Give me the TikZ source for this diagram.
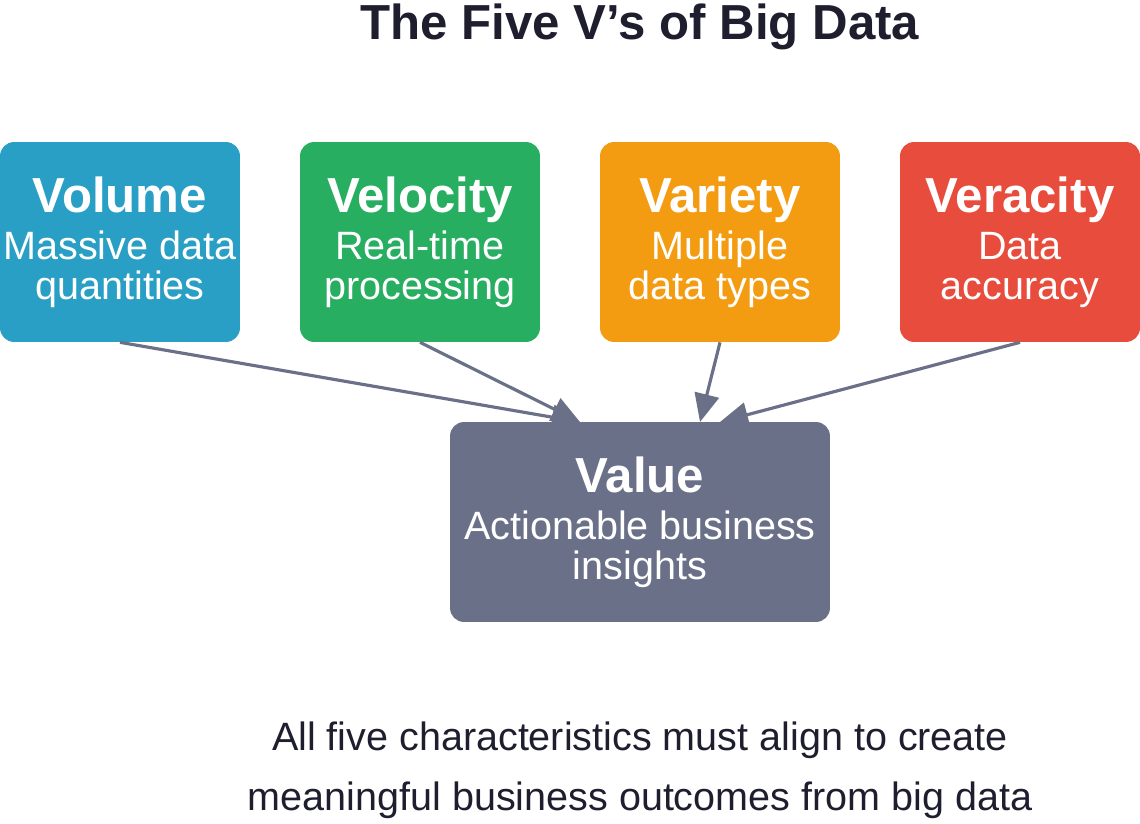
\documentclass[tikz,border=0pt]{standalone}
\usepackage{fontspec}
\setmainfont{Liberation Sans}
\usetikzlibrary{positioning,arrows.meta}
\definecolor{volumeblue}{HTML}{2A9FC6}
\definecolor{velocitygreen}{HTML}{27AE60}
\definecolor{varietyorange}{HTML}{F39C12}
\definecolor{veracityred}{HTML}{E74C3C}
\definecolor{valuegray}{HTML}{6B7089}
\definecolor{titleink}{HTML}{1E1E2E}
\newcommand{\vhead}{\fontsize{28}{30}\selectfont\bfseries}
\tikzset{>={Triangle[length=16pt,width=14pt]}}
\tikzset{vbox/.style={rounded corners=8pt,minimum width=4.8cm,minimum height=4cm,
  text=white,align=center,inner sep=0pt,font=\fontsize{22.5}{22.7}\selectfont},
  flow/.style={->,draw=valuegray,fill=valuegray,line width=1.8pt}}
\begin{document}
\begin{tikzpicture}[x=0.02cm,y=-0.02cm]
\useasboundingbox (0,0) rectangle (1140,824);
\node[font=\vhead,text=titleink] (title) at (640,27) {The Five V's of Big Data};
\node[vbox,fill=volumeblue] (volume) at (120,242) {{\vhead Volume}\\[4pt]Massive data\\quantities};
\node[vbox,fill=velocitygreen] (velocity) at (420,242) {{\vhead Velocity}\\[4pt]Real-time\\processing};
\node[vbox,fill=varietyorange] (variety) at (720,242) {{\vhead Variety}\\[4pt]Multiple\\data types};
\node[vbox,fill=veracityred] (veracity) at (1020,242) {{\vhead Veracity}\\[4pt]Data\\accuracy};
\node[vbox,fill=valuegray,minimum width=7.6cm] (value) at (640,522) {{\vhead Value}\\[4pt]Actionable business\\insights};
\coordinate (in1) at (580,422);
\coordinate (in2) at (700,422);
\coordinate (in3) at (720,422);
\draw[flow] (volume.south) -- (in1);
\draw[flow] (velocity.south) -- (in1);
\draw[flow] (variety.south) -- (in2);
\draw[flow] (veracity.south) -- (in3);
\node[align=center,text=titleink,font=\fontsize{22.5}{34}\selectfont] (note) at (640,770) {All five characteristics must align to create\\meaningful business outcomes from big data};
\end{tikzpicture}
\end{document}
